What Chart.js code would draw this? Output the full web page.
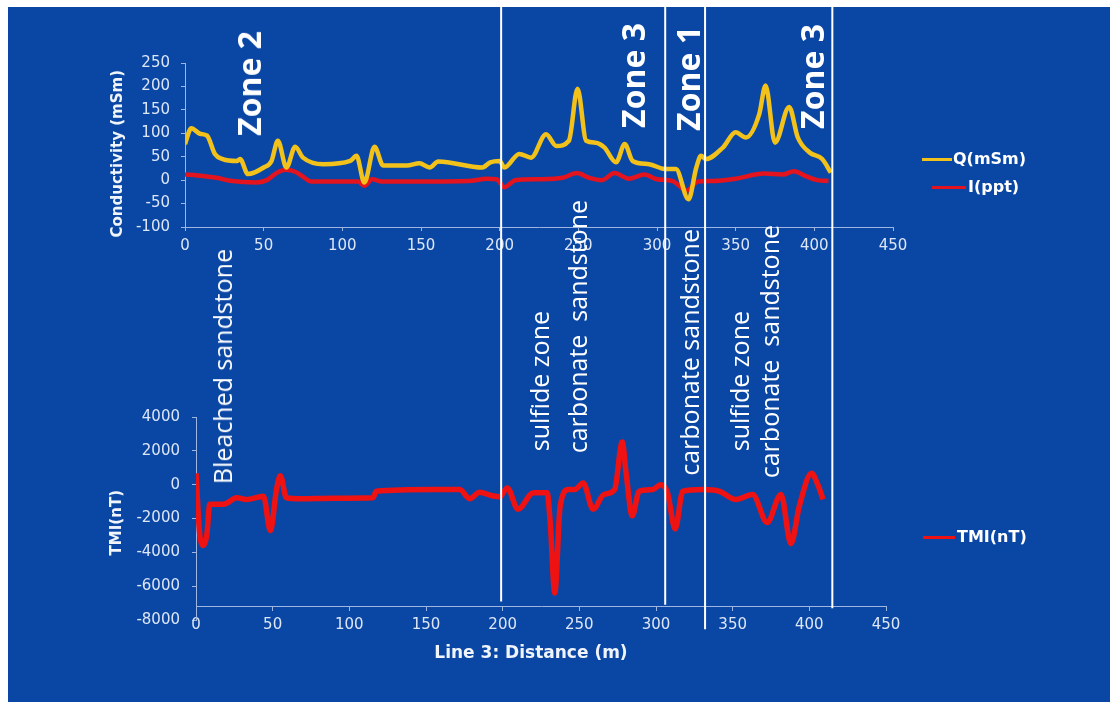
<!DOCTYPE html>
<html>
<head>
<meta charset="utf-8">
<script src="https://cdn.jsdelivr.net/npm/chart.js@4.4.1/dist/chart.umd.min.js"></script>
<style>
  html, body { margin: 0; padding: 0; background: #ffffff; }
  #stage { position: relative; width: 1118px; height: 704px; overflow: hidden; background: #ffffff; }
  #panel { position: absolute; left: 8px; top: 7px; width: 1102px; height: 695px; background: #0a47a5; }
  canvas { position: absolute; left: 0; top: 0; }
  #cTop { z-index: 1; }
  #cBot { z-index: 2; }
  .note { position: absolute; z-index: 3; color: #ffffff; font-family: "Open Sans", sans-serif;
          writing-mode: vertical-rl; transform: rotate(180deg); white-space: pre; line-height: 1; }
  .zone { font-weight: 700; font-size: 32px; }
  .rock { font-weight: 400; font-size: 25px; }
  .ytitle { position: absolute; z-index: 3; color: #f0f4fb; font: bold 15px "DejaVu Sans", sans-serif;
            writing-mode: vertical-rl; transform: rotate(180deg); white-space: nowrap; line-height: 1; }
  #xTitle { position: absolute; z-index: 3; color: #f0f4fb; font: bold 17px "DejaVu Sans", sans-serif;
            white-space: nowrap; line-height: 1; transform: translate(-50%, -50%); }
  .leg { position: absolute; z-index: 3; color: #ffffff; font: bold 16px "DejaVu Sans", sans-serif;
         line-height: 1; white-space: nowrap; transform: translateY(-50%); }
  .leg i { position: absolute; top: 50%; height: 3px; margin-top: -1px; }
</style>
</head>
<body>
<div id="stage">
  <div id="panel"></div>
  <canvas id="cTop" width="1118" height="300"></canvas>
  <canvas id="cBot" width="1118" height="704"></canvas>
</div>
<script>
// ---- Conductivity survey, Line 3 ----
const distTicks = [0, 50, 100, 150, 200, 250, 300, 350, 400, 450];
const condTicks = [-100, -50, 0, 50, 100, 150, 200, 250];
const tmiTicks = [-8000, -6000, -4000, -2000, 0, 2000, 4000];

// Quadrature conductivity Q (mSm)
const qDist = [0, 4, 9.5, 14, 19, 24, 33, 35, 40, 50, 55, 59, 64.5, 70, 75, 88, 105, 109, 114, 120.5,
  126, 141, 149, 155.5, 161, 189, 194, 200, 203, 212.5, 220, 229.5, 236, 244, 249.5, 255, 261, 266.5, 274, 279.5,
  284.5, 295, 305, 312, 320, 325, 328, 331, 342, 350, 356.5, 365, 369, 375, 384, 389.5, 397, 405, 410.5];
const qVals = [77, 111, 99, 95, 56, 45, 41, 45, 13, 27, 41, 84, 27, 71, 48, 34, 41, 52, -5, 71,
  31, 31, 36, 27, 40, 27, 38, 41, 27, 56, 48, 98, 73, 84, 195, 84, 80, 70, 38, 77,
  41, 34, 24, 24, -41, 27, 52, 45, 70, 102, 91, 141, 202, 80, 156, 91, 59, 45, 16];

// In-phase I (ppt)
const iDist = [0, 8, 20, 30, 45, 52, 58, 64, 70, 76, 80, 100, 110, 114, 119, 125, 150, 180, 192, 198,
  203, 210, 225, 240, 249, 257, 265, 273, 282, 292, 300, 310, 319, 326, 335, 350, 368, 380, 387, 395, 402, 409];
const iVals = [12, 10, 5, -2, -5, 0, 15, 22, 18, 5, -3, -3, -3, -12, 2, -3, -3, -2, 3, 2,
  -15, 0, 2, 5, 15, 5, 0, 15, 3, 12, 2, -2, -22, -3, -2, 3, 14, 12, 19, 8, 0, -2];

// Total magnetic intensity (nT)
const tDist = [0, 2.5, 5, 7, 9, 18, 26.5, 33, 44, 48.5, 52.5, 55, 59, 68, 90, 115.5, 117.5, 155, 172, 178.5,
  185, 192.5, 198, 203, 210, 220, 229, 231, 234, 237.5, 243, 247, 252.5, 259, 266, 273, 278, 280.5, 284.5, 289,
  298, 303, 307.5, 312.5, 317.5, 330.5, 341.5, 352, 363, 372.5, 381.5, 388, 393.5, 401.5, 405.5, 409];
const tVals = [680, -3000, -3590, -3000, -1160, -1160, -775, -870, -680, -2715, -290, 520, -775, -830, -800, -775, -390, -290, -290, -830,
  -450, -640, -720, -190, -1450, -480, -480, -2230, -6400, -1260, -290, -290, 100, -1450, -580, -290, 2520, 680, -1840, -390,
  -290, 0, -480, -2620, -390, -290, -390, -870, -580, -2230, -580, -3490, -1260, 680, 0, -870];

// Zone boundaries along the line (m) and where each boundary line stops (nT level)
const zoneEdges = [199, 306, 332, 415];
const zoneEnds = [-6900, -7100, -8550, -7300];

const seriesNames = ['Q(mSm)', 'I(ppt)', 'TMI(nT)'];
const seriesColors = ['#f2c21a', '#e3141e', '#ee1212'];

// ---- styling ----
const tickColor = '#dde6f5';
const axisColor = '#9fb6e2';
const tickFont = { family: 'DejaVu Sans', size: 15 };
const panelTop = 7;

const pts = (xs, ys) => xs.map((x, i) => ({ x, y: ys[i] }));
const useTicks = arr => scale => { scale.ticks = arr.map(v => ({ value: v })); };

function axisStyle(ticks, padding, extra) {
  return Object.assign({
    type: 'linear',
    min: ticks[0],
    max: ticks[ticks.length - 1],
    afterBuildTicks: useTicks(ticks),
    grid: { drawOnChartArea: false, drawTicks: true, tickLength: 4, color: axisColor },
    border: { display: true, color: axisColor, width: 1 },
    ticks: { color: tickColor, font: tickFont, padding: padding, autoSkip: false,
             maxRotation: 0, callback: v => String(v) }
  }, extra);
}

Chart.defaults.animation = false;

new Chart(document.getElementById('cTop'), {
  type: 'line',
  data: {
    datasets: [
      { label: seriesNames[0], data: pts(qDist, qVals), borderColor: seriesColors[0], borderWidth: 4.5 },
      { label: seriesNames[1], data: pts(iDist, iVals), borderColor: seriesColors[1], borderWidth: 4.5 }
    ]
  },
  options: {
    responsive: false,
    parsing: false,
    layout: { padding: { left: 100, right: 225, top: 63, bottom: 0 } },
    elements: { point: { radius: 0 }, line: { cubicInterpolationMode: 'monotone', capBezierPoints: true } },
    plugins: { legend: { display: false }, tooltip: { enabled: false } },
    scales: {
      x: axisStyle(distTicks, 6, { afterFit: s => { s.height = 73; } }),
      y: axisStyle(condTicks, 11, { afterFit: s => { s.width = 85; } })
    }
  }
});

const zoneLines = {
  id: 'zoneLines',
  afterDraw(chart) {
    const { ctx, scales: { x, y } } = chart;
    ctx.save();
    ctx.strokeStyle = '#ffffff';
    ctx.lineWidth = 2;
    zoneEdges.forEach((d, i) => {
      const px = x.getPixelForValue(d);
      ctx.beginPath();
      ctx.moveTo(px, panelTop);
      ctx.lineTo(px, y.getPixelForValue(zoneEnds[i]));
      ctx.stroke();
    });
    ctx.restore();
  }
};

new Chart(document.getElementById('cBot'), {
  type: 'line',
  data: {
    datasets: [
      { label: seriesNames[2], data: pts(tDist, tVals), borderColor: seriesColors[2], borderWidth: 5.5 }
    ]
  },
  options: {
    responsive: false,
    parsing: false,
    layout: { padding: { left: 100, right: 232, top: 417, bottom: 84 } },
    elements: { point: { radius: 0 }, line: { cubicInterpolationMode: 'monotone' } },
    plugins: { legend: { display: false }, tooltip: { enabled: false } },
    scales: {
      x: axisStyle(distTicks, 6, { position: { y: -7200 } }),
      y: axisStyle(tmiTicks, 12, { afterFit: s => { s.width = 96; } })
    }
  },
  plugins: [zoneLines]
});

// ---- text overlays ----
const stage = document.getElementById('stage');
function addNote(text, cls, cx, bottomY) {
  const el = document.createElement('div');
  el.className = 'note ' + cls;
  el.textContent = text;
  stage.appendChild(el);
  el.style.left = (cx - el.offsetWidth / 2) + 'px';
  el.style.top = (bottomY - el.offsetHeight) + 'px';
}
const notes = [
  ['Zone 2', 'zone', 249, 136],
  ['Zone 3', 'zone', 633, 128],
  ['Zone 1', 'zone', 688, 131],
  ['Zone 3', 'zone', 812, 129],
  ['Bleached sandstone', 'rock', 222, 484],
  ['sulfide zone', 'rock', 539, 451],
  ['carbonate  sandstone', 'rock', 577, 453],
  ['carbonate sandstone', 'rock', 689, 476],
  ['sulfide zone', 'rock', 739, 451],
  ['carbonate  sandstone', 'rock', 769, 478]
];
notes.forEach(n => addNote(n[0], n[1], n[2], n[3]));

function addYTitle(text, cx, cy) {
  const el = document.createElement('div');
  el.className = 'ytitle';
  el.textContent = text;
  stage.appendChild(el);
  el.style.left = (cx - el.offsetWidth / 2) + 'px';
  el.style.top = (cy - el.offsetHeight / 2) + 'px';
}
addYTitle('Conductivity (mSm)', 117, 153);
addYTitle('TMI(nT)', 116, 522);

const xt = document.createElement('div');
xt.id = 'xTitle';
xt.textContent = 'Line 3: Distance (m)';
xt.style.left = '531px';
xt.style.top = '652px';
stage.appendChild(xt);

// legend entries: [series index, line left, line right, text left, centre y]
const legendItems = [
  [0, 922, 952, 953, 159],
  [1, 932, 966, 968, 187],
  [2, 923, 955, 957, 537]
];
legendItems.forEach(([k, l0, l1, tx, cy]) => {
  const el = document.createElement('div');
  el.className = 'leg';
  el.textContent = seriesNames[k];
  el.style.left = tx + 'px';
  el.style.top = cy + 'px';
  const sw = document.createElement('i');
  sw.style.left = (l0 - tx) + 'px';
  sw.style.width = (l1 - l0) + 'px';
  sw.style.background = seriesColors[k];
  el.appendChild(sw);
  stage.appendChild(el);
});
</script>
</body>
</html>
